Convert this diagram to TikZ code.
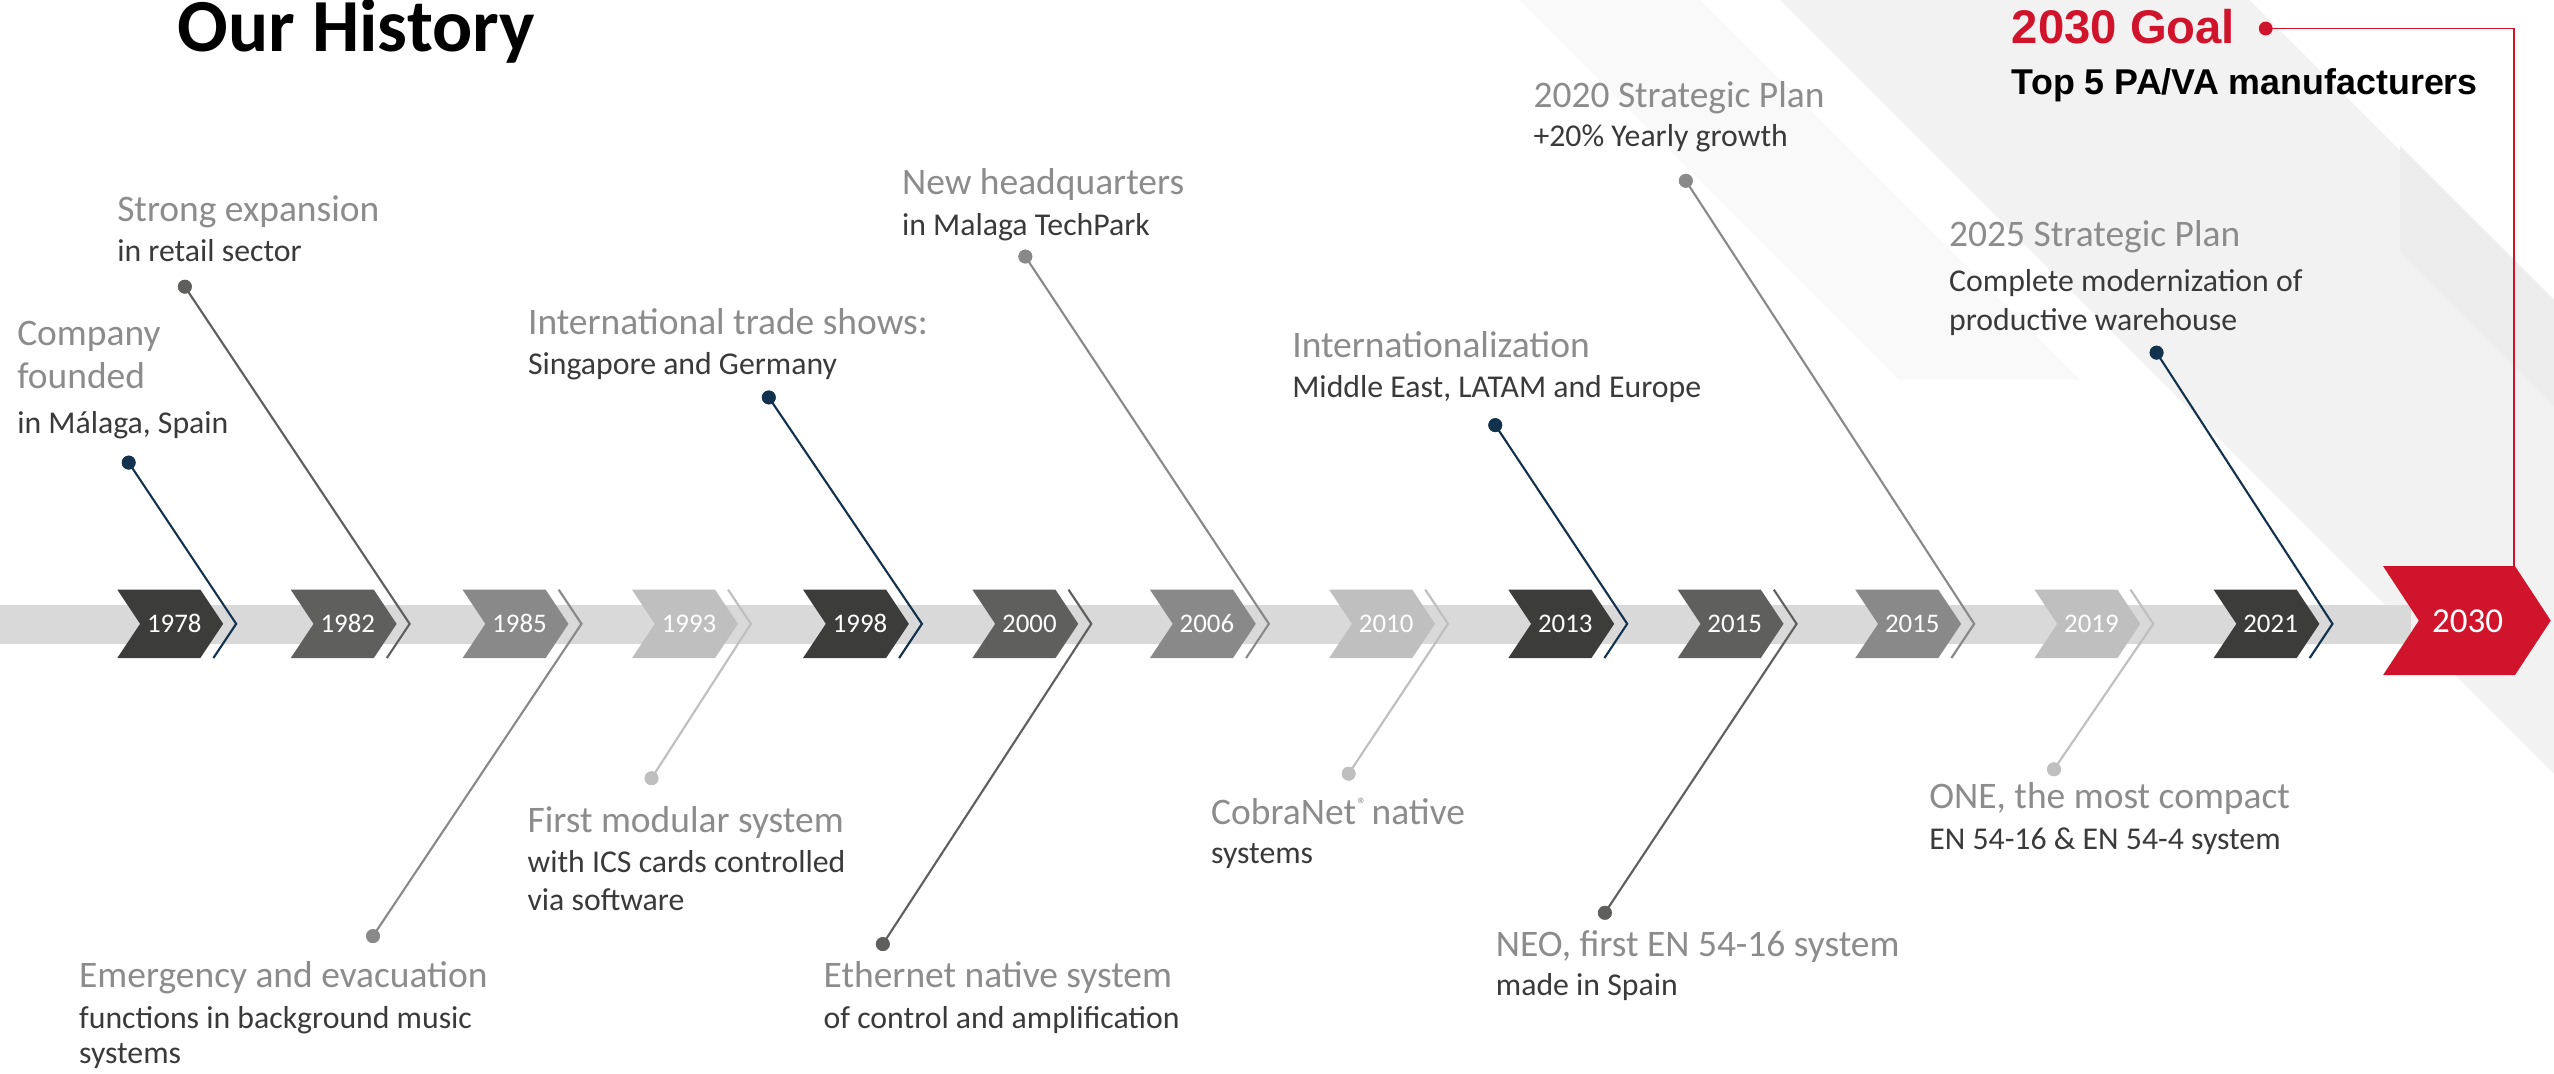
\documentclass[tikz,border=0pt]{standalone}
\usepackage{fontspec}
\setmainfont{Carlito}
\newfontfamily\goalfont{Liberation Sans}
\definecolor{navy}{HTML}{12324D}
\definecolor{cA}{HTML}{3C3C3B}
\definecolor{cB}{HTML}{5F5F5E}
\definecolor{cC}{HTML}{898989}
\definecolor{cD}{HTML}{BFBFBF}
\definecolor{bandgray}{HTML}{D9D9D9}
\definecolor{redgoal}{HTML}{D0142C}
\definecolor{headgray}{HTML}{8C8C8C}
\definecolor{subdark}{HTML}{3A3A3A}
\definecolor{stripeA}{HTML}{F9F9F9}
\definecolor{stripeB}{HTML}{F2F2F2}
\definecolor{stripeC}{HTML}{EDEDED}
\tikzset{
  yearlbl/.style={text=white, inner sep=0pt, font=\fontsize{16.5}{18}\selectfont},
  headtxt/.style={anchor=base west, inner sep=0pt, text=headgray, font=\fontsize{23}{26}\selectfont},
  subtxt/.style={anchor=base west, inner sep=0pt, text=subdark, font=\fontsize{19.5}{22}\selectfont},
  evdot/.style={circle, inner sep=0pt, minimum size=8.5pt},
  conn/.style={line width=1.3pt},
}
% #1 name, #2 left x, #3 colour, #4 year
\newcommand{\yearchev}[4]{%
  \fill[#3] (#2,362) -- (#2+51,362) -- (#2+65,383) -- (#2+51,404) -- (#2,404) -- (#2+14,383) -- cycle;
  \node[yearlbl] (y#1) at (#2+35,383) {#4};
  \coordinate (t#1) at (#2+73,383);
}
% up event: #1 name, #2 left x, #3 colour, #4 dot x, #5 dot y
\newcommand{\upevent}[5]{%
  \coordinate (e#1) at (#2+59,404);
  \node[evdot, fill=#3] (d#1) at (#4,#5) {};
  \draw[conn, #3] (d#1.center) -- (t#1) -- (e#1);
  \node[evdot, fill=#3] at (d#1) {};
}
\newcommand{\downevent}[5]{%
  \coordinate (e#1) at (#2+59,362);
  \node[evdot, fill=#3] (d#1) at (#4,#5) {};
  \draw[conn, #3] (d#1.center) -- (t#1) -- (e#1);
  \node[evdot, fill=#3] at (d#1) {};
}
\begin{document}
\begin{tikzpicture}[x=1pt,y=-1pt]
\useasboundingbox (0,0) rectangle (1568,659);
\fill[white] (0,0) rectangle (1568,659);
% background stripes
\fill[stripeA] (933,0) -- (1044,0) -- (1277,233) -- (1166,233) -- cycle;
\fill[stripeB] (1093,0) -- (1381,0) -- (1568,187) -- (1568,475) -- cycle;
\fill[stripeC] (1473.5,89.6) -- (1568,184) -- (1568,249) -- (1473.5,154.7) -- cycle;
% band
\fill[bandgray] (0,371.5) rectangle (1480,395.5);
% chevrons
\yearchev{a}{72}{cA}{1978}
\yearchev{b}{178.5}{cB}{1982}
\yearchev{c}{284}{cC}{1985}
\yearchev{d}{388}{cD}{1993}
\yearchev{e}{493}{cA}{1998}
\yearchev{f}{597}{cB}{2000}
\yearchev{g}{706}{cC}{2006}
\yearchev{h}{816}{cD}{2010}
\yearchev{i}{926}{cA}{2013}
\yearchev{j}{1030}{cB}{2015}
\yearchev{k}{1139}{cC}{2015}
\yearchev{l}{1249}{cD}{2019}
\yearchev{m}{1359}{cA}{2021}
% connectors and dots
\upevent{a}{72}{navy}{79}{284}
\upevent{b}{178.5}{cB}{113.5}{176}
\downevent{c}{284}{cC}{229}{574.7}
\downevent{d}{388}{cD}{400}{477.8}
\upevent{e}{493}{navy}{472}{244}
\downevent{f}{597}{cB}{542}{579.6}
\upevent{g}{706}{cC}{629.5}{157.5}
\downevent{h}{816}{cD}{828}{475}
\upevent{i}{926}{navy}{918}{261}
\downevent{j}{1030}{cB}{985.3}{560.4}
\upevent{k}{1139}{cC}{1035}{111}
\downevent{l}{1249}{cD}{1261}{472.3}
\upevent{m}{1359}{navy}{1324}{216.5}
% 2030 chevron
\fill[redgoal] (1463,347.5) -- (1544,347.5) -- (1566,381) -- (1544,414.5) -- (1463,414.5) -- (1485,381) -- cycle;
\node[text=white, inner sep=0pt, font=\fontsize{21.5}{24}\selectfont] (y2030) at (1515,381.5) {2030};
\coordinate (c30tr) at (1543.5,347.5);
\coordinate (gcorner) at (1543.5,17.5);
\node[evdot, fill=redgoal] (gdot) at (1391,17.5) {};
\draw[redgoal, line width=1.2pt] (gdot.center) -- (gcorner) -- (c30tr);
% title and goal
\node[anchor=base west, inner sep=0pt, font=\fontsize{46}{50}\selectfont\bfseries] (title) at (109,31.7) {Our History};
\node[anchor=base west, inner sep=0pt, text=redgoal, font=\goalfont\bfseries\fontsize{29}{32}\selectfont] (goal) at (1235,26.6) {2030 Goal};
\node[anchor=base west, inner sep=0pt, text=black, font=\goalfont\bfseries\fontsize{22}{25}\selectfont] (goalsub) at (1235,57.9) {Top 5 PA/VA manufacturers};
% upper texts
\node[headtxt] (ha1) at (10.4,212) {Company};
\node[headtxt] (ha2) at (10.4,238.4) {founded};
\node[subtxt] (sa1) at (10.4,266) {in Málaga, Spain};
\node[headtxt] (hb1) at (71.8,136) {Strong expansion};
\node[subtxt] (sb1) at (71.8,160.7) {in retail sector};
\node[headtxt] (he1) at (324,205.5) {International trade shows:};
\node[subtxt] (se1) at (324,230) {Singapore and Germany};
\node[headtxt] (hg1) at (553.6,119.7) {New headquarters};
\node[subtxt] (sg1) at (553.6,144.3) {in Malaga TechPark};
\node[headtxt] (hi1) at (793.2,219.4) {Internationalization};
\node[subtxt] (si1) at (793.2,244.2) {Middle East, LATAM and Europe};
\node[headtxt] (hk1) at (941.3,65.9) {2020 Strategic Plan};
\node[subtxt] (sk1) at (941.3,90) {+20\% Yearly growth};
\node[headtxt] (hm1) at (1196.5,151.4) {2025 Strategic Plan};
\node[subtxt] (sm1) at (1196.5,179) {Complete modernization of};
\node[subtxt] (sm2) at (1196.5,202.6) {productive warehouse};
% lower texts
\node[headtxt] (hd1) at (323.7,511.4) {First modular system};
\node[subtxt] (sd1) at (323.7,535.8) {with ICS cards controlled};
\node[subtxt] (sd2) at (323.7,558.7) {via software};
\node[headtxt] (hc1) at (48.4,606.2) {Emergency and evacuation};
\node[subtxt] (sc1) at (48.4,631.3) {functions in background music};
\node[subtxt] (sc2) at (48.4,653.2) {systems};
\node[headtxt] (hf1) at (505.5,606.2) {Ethernet native system};
\node[subtxt] (sf1) at (505.5,631.3) {of control and amplification};
\node[headtxt] (hh1) at (743.4,505.9) {CobraNet\hspace{1pt}\raisebox{0.75ex}{\fontsize{11}{12}\selectfont ®}\hspace{3pt}native};
\node[subtxt] (sh1) at (743.4,530) {systems};
\node[headtxt] (hj1) at (918.2,587.4) {NEO, first EN 54-16 system};
\node[subtxt] (sj1) at (918.2,610.9) {made in Spain};
\node[headtxt] (hl1) at (1184.3,496.3) {ONE, the most compact};
\node[subtxt] (sl1) at (1184.3,521.4) {EN 54-16 \& EN 54-4 system};
\end{tikzpicture}
\end{document}
